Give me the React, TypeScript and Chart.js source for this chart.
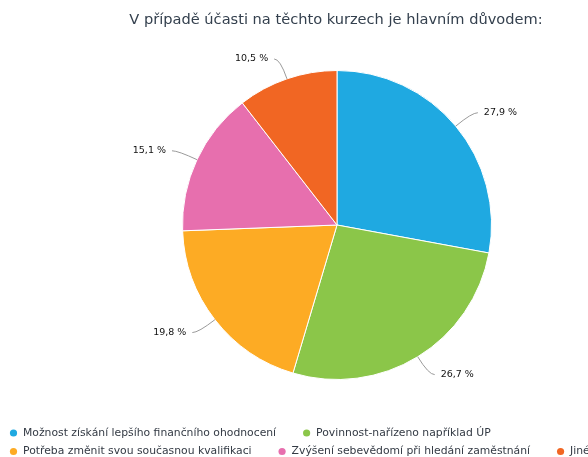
import React, { useEffect, useRef } from "react";
import { Chart, registerables } from "chart.js";

Chart.register(...registerables);

const titleText = "V případě účasti na těchto kurzech je hlavním důvodem:";
const categories = [
  "Možnost získání lepšího finančního ohodnocení",
  "Povinnost-nařízeno například ÚP",
  "Potřeba změnit svou současnou kvalifikaci",
  "Zvýšení sebevědomí při hledání zaměstnání",
  "Jiné",
];
const values = [27.9, 26.7, 19.8, 15.1, 10.5];
const colors = ["#1FA9E1", "#8BC649", "#FDAB24", "#E76FAE", "#F16623"];

const FONT = '"DejaVu Sans", sans-serif';
const CW = 674;
const CH = 457;

const overlayPlugin = {
  id: "overlay",
  afterDraw(chart: any) {
    const ctx = chart.ctx as CanvasRenderingContext2D;
    ctx.save();
    // title
    ctx.font = `14.6px ${FONT}`;
    ctx.fillStyle = "#34404E";
    ctx.textAlign = "center";
    ctx.textBaseline = "middle";
    ctx.fillText(titleText, chart.width / 2 - 1, 20);

    // labels with leader lines
    const meta = chart.getDatasetMeta(0);
    ctx.font = `9.5px ${FONT}`;
    ctx.textBaseline = "middle";
    meta.data.forEach((arc: any, i: number) => {
      const mid = (arc.startAngle + arc.endAngle) / 2;
      const dx = Math.cos(mid);
      const dy = Math.sin(mid);
      const R = arc.outerRadius;
      const x0 = arc.x + dx * R;
      const y0 = arc.y + dy * R;
      const ex = arc.x + dx * (R + 21);
      const ey = arc.y + dy * (R + 21);
      const side = dx >= 0 ? 1 : -1;
      const x2 = ex + side * 6;
      ctx.strokeStyle = "#9A9A9A";
      ctx.lineWidth = 1;
      ctx.beginPath();
      ctx.moveTo(x0, y0);
      ctx.quadraticCurveTo(ex, ey, x2, ey);
      ctx.stroke();
      ctx.fillStyle = "#111";
      ctx.textAlign = side > 0 ? "left" : "right";
      const txt = values[i].toFixed(1).replace(".", ",") + " %";
      ctx.fillText(txt, x2 + side * 6, ey);
    });

    // legend
    ctx.font = `10.8px ${FONT}`;
    ctx.textAlign = "left";
    ctx.textBaseline = "middle";
    let x = 10;
    let y = 433;
    const gap = 27;
    categories.forEach((c, i) => {
      const tw = ctx.measureText(c).width;
      const w = 7 + 6 + tw;
      if (x + w > chart.width - 10 && x > 10) {
        x = 10;
        y += 18.5;
      }
      ctx.fillStyle = colors[i];
      ctx.beginPath();
      ctx.arc(x + 3.5, y, 3.6, 0, Math.PI * 2);
      ctx.fill();
      ctx.fillStyle = "#333A44";
      ctx.fillText(c, x + 13, y);
      x += w + gap;
    });
    ctx.restore();
  },
};

export default function App() {
  const ref = useRef<HTMLCanvasElement>(null);
  useEffect(() => {
    const chart = new Chart(ref.current!, {
      type: "pie",
      data: {
        labels: categories,
        datasets: [
          {
            data: values,
            backgroundColor: colors,
            borderColor: "#ffffff",
            borderWidth: 1,
          },
        ],
      },
      options: {
        responsive: false,
        animation: false,
        layout: { padding: { top: 70, bottom: 77, left: 0, right: 0 } },
        plugins: {
          legend: { display: false },
          title: { display: false },
          tooltip: { enabled: false },
        },
      },
      plugins: [overlayPlugin],
    });
    return () => chart.destroy();
  }, []);
  return (
    <div style={{ position: "absolute", left: 0, top: 0, width: 588, height: 457, overflow: "hidden", background: "#fff" }}>
      <canvas ref={ref} width={CW} height={CH} style={{ width: CW, height: CH, display: "block" }} />
    </div>
  );
}
